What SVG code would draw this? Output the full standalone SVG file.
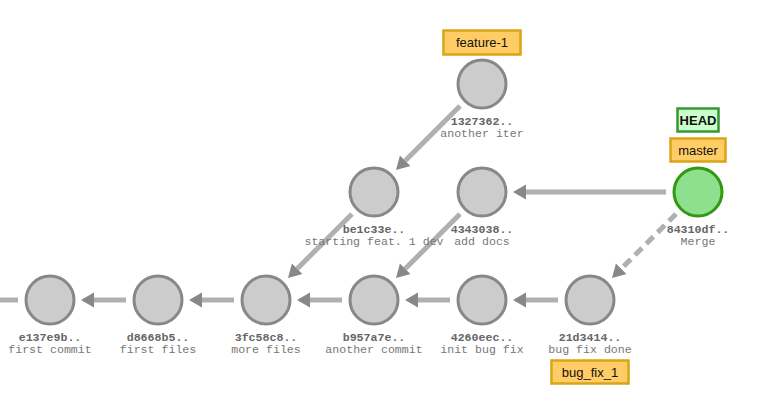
<svg xmlns="http://www.w3.org/2000/svg" width="781" height="403" viewBox="0 0 781 403">
<style>
.c{fill:#cccccc;stroke:#888888;stroke-width:3}
.g{fill:#8ee08e;stroke:#339911;stroke-width:3}
.h{font-family:"Liberation Mono",monospace;font-size:11.6px;font-weight:bold;fill:#666666;text-anchor:middle}
.m{font-family:"Liberation Mono",monospace;font-size:11.6px;fill:#777777;text-anchor:middle}
.e{fill:none;stroke:#b0b0b0;stroke-width:5}
.d{stroke-dasharray:10,6}
.tb{fill:#ffcc66;stroke:#d9a514;stroke-width:2.5}
.hb{fill:#ccffcc;stroke:#339933;stroke-width:2.5}
.tt{font-family:"Liberation Sans",Arial,sans-serif;font-size:13px;fill:#111111;text-anchor:middle}
.ht{font-family:"Liberation Sans",Arial,sans-serif;font-size:13px;font-weight:bold;fill:#111111;text-anchor:middle}
</style>
<defs>
<marker id="ah" viewBox="0 -8 13 16" refX="0" refY="0" markerWidth="13" markerHeight="16" markerUnits="userSpaceOnUse" orient="auto">
<path d="M0,-7.5 L13,0 L0,7.5 z" fill="#888888"/>
</marker>
</defs>
<g id="connectors">
<path class="e" d="M0,300 L18,300"/>
<path class="e" d="M126,300 L94,300" marker-end="url(#ah)"/>
<path class="e" d="M234,300 L202,300" marker-end="url(#ah)"/>
<path class="e" d="M342,300 L310,300" marker-end="url(#ah)"/>
<path class="e" d="M450,300 L418,300" marker-end="url(#ah)"/>
<path class="e" d="M558,300 L526,300" marker-end="url(#ah)"/>
<path class="e" d="M352,214 L297.2,268.8" marker-end="url(#ah)"/>
<path class="e" d="M460,214 L405.2,268.8" marker-end="url(#ah)"/>
<path class="e" d="M460,106 L405.2,160.8" marker-end="url(#ah)"/>
<path class="e" d="M666,192 L526,192" marker-end="url(#ah)"/>
<path class="e d" d="M676,214 L621.2,268.8" marker-end="url(#ah)"/>
</g>
<g id="n-e137e9b"><circle class="c" cx="50" cy="300" r="24"/><text class="h" x="50" y="341">e137e9b..</text><text class="m" x="50" y="353">first commit</text></g>
<g id="n-d8668b5"><circle class="c" cx="158" cy="300" r="24"/><text class="h" x="158" y="341">d8668b5..</text><text class="m" x="158" y="353">first files</text></g>
<g id="n-3fc58c8"><circle class="c" cx="266" cy="300" r="24"/><text class="h" x="266" y="341">3fc58c8..</text><text class="m" x="266" y="353">more files</text></g>
<g id="n-b957a7e"><circle class="c" cx="374" cy="300" r="24"/><text class="h" x="374" y="341">b957a7e..</text><text class="m" x="374" y="353">another commit</text></g>
<g id="n-4260eec"><circle class="c" cx="482" cy="300" r="24"/><text class="h" x="482" y="341">4260eec..</text><text class="m" x="482" y="353">init bug fix</text></g>
<g id="n-21d3414"><circle class="c" cx="590" cy="300" r="24"/><text class="h" x="590" y="341">21d3414..</text><text class="m" x="590" y="353">bug fix done</text></g>
<g id="n-be1c33e"><circle class="c" cx="374" cy="192" r="24"/><text class="h" x="374" y="233">be1c33e..</text><text class="m" x="374" y="245">starting feat. 1 dev</text></g>
<g id="n-4343038"><circle class="c" cx="482" cy="192" r="24"/><text class="h" x="482" y="233">4343038..</text><text class="m" x="482" y="245">add docs</text></g>
<g id="n-1327362"><circle class="c" cx="482" cy="84" r="24"/><text class="h" x="482" y="125">1327362..</text><text class="m" x="482" y="137">another iter</text></g>
<g id="n-84310df"><circle class="g" cx="698" cy="192" r="24"/><text class="h" x="698" y="233">84310df..</text><text class="m" x="698" y="245">Merge</text></g>
<g id="tag-feature-1"><rect class="tb" x="443.5" y="30.5" width="77" height="24"/><text class="tt" x="482" y="47">feature-1</text></g>
<g id="tag-HEAD"><rect class="hb" x="677.5" y="108.5" width="41" height="23"/><text class="ht" x="698" y="125">HEAD</text></g>
<g id="tag-master"><rect class="tb" x="670.5" y="138.5" width="55" height="23"/><text class="tt" x="698" y="155">master</text></g>
<g id="tag-bug_fix_1"><rect class="tb" x="551.5" y="360.5" width="77" height="23"/><text class="tt" x="590" y="377">bug_fix_1</text></g>
</svg>
